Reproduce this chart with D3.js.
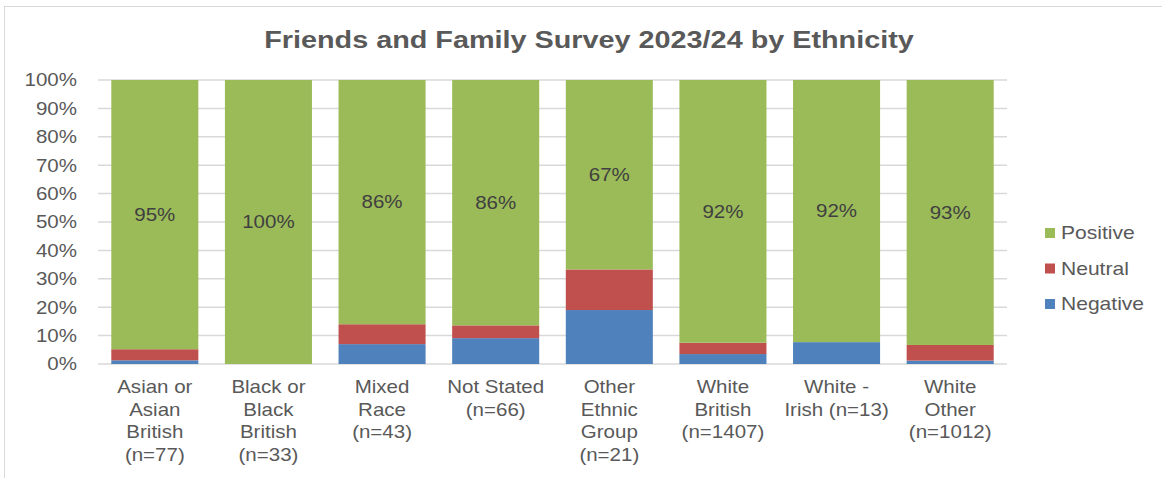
<!DOCTYPE html>
<html>
<head>
<meta charset="utf-8">
<script src="https://cdn.jsdelivr.net/npm/d3@7"></script>
<style>
  body { margin: 0; background: #fff; }
  text { font-family: "Liberation Sans", Arial, sans-serif; }
</style>
</head>
<body>
<div id="chart"></div>
<script>
// categories, one label line per array entry
var categories = [
    ["Asian or", "Asian", "British", "(n=77)"],
    ["Black or", "Black", "British", "(n=33)"],
    ["Mixed", "Race", "(n=43)"],
    ["Not Stated", "(n=66)"],
    ["Other", "Ethnic", "Group", "(n=21)"],
    ["White", "British", "(n=1407)"],
    ["White -", "Irish (n=13)"],
    ["White", "Other", "(n=1012)"]
];

// percentages per series
var negative = [1.3, 0, 7.0, 9.1, 19.0, 3.5, 7.7, 1.2];
var neutral  = [3.9, 0, 7.0, 4.5, 14.3, 4.0, 0, 5.5];
var positive = [94.8, 100, 86.0, 86.4, 66.7, 92.5, 92.3, 93.3];
var positiveLabels = ["95%", "100%", "86%", "86%", "67%", "92%", "92%", "93%"];

var seriesNames = ["Negative", "Neutral", "Positive"];
var colors = {Negative: "#4F81BD", Neutral: "#C0504D", Positive: "#9BBB59"};
var yTicks = [0, 10, 20, 30, 40, 50, 60, 70, 80, 90, 100];

var W = 1162, H = 478;
var margin = {top: 80, right: 155, bottom: 114, left: 98},
    width = W - margin.left - margin.right,
    height = H - margin.top - margin.bottom;

// the source text is a bit wider than Arial, stretch it sideways
var sx = 1.14;
function place(x, y, s) {
    return "translate(" + x + "," + y + ") scale(" + (s || sx) + ",1)";
}

var svg = d3.select("#chart").append("svg")
    .attr("width", W)
    .attr("height", H);

// chart frame
svg.append("rect")
    .attr("x", 4.5).attr("y", 6.5)
    .attr("width", W).attr("height", H)
    .attr("fill", "none")
    .attr("stroke", "#d9d9d9");

svg.append("text")
    .attr("transform", place(589, 48, 1.2))
    .attr("text-anchor", "middle")
    .style("font-size", "24px")
    .style("font-weight", "bold")
    .style("fill", "#595959")
    .text("Friends and Family Survey 2023/24 by Ethnicity");

var g = svg.append("g")
    .attr("transform", "translate(" + margin.left + "," + margin.top + ")");

var keys = categories.map(function(d, i) { return i; });
var table = keys.map(function(i) {
    return {idx: i, Negative: negative[i], Neutral: neutral[i], Positive: positive[i]};
});

var x = d3.scaleBand().domain(keys).range([0, width]).paddingInner(0.234).paddingOuter(0.117);
var y = d3.scaleLinear().domain([0, 100]).range([height, 0]);

// gridlines
g.append("g")
    .selectAll("line")
    .data(yTicks)
    .enter().append("line")
    .attr("x1", 0).attr("x2", width)
    .attr("y1", function(d) { return y(d); })
    .attr("y2", function(d) { return y(d); })
    .attr("stroke", "#d9d9d9")
    .attr("stroke-width", 1.5);

// y axis labels
g.append("g")
    .selectAll("text")
    .data(yTicks)
    .enter().append("text")
    .attr("transform", function(d) { return place(-21, y(d)); })
    .attr("dy", "0.35em")
    .attr("text-anchor", "end")
    .style("font-size", "18px")
    .style("fill", "#595959")
    .text(function(d) { return d + "%"; });

var stacked = d3.stack().keys(seriesNames)(table);

g.selectAll("g.series")
    .data(stacked)
    .enter().append("g")
    .attr("class", "series")
    .attr("fill", function(d) { return colors[d.key]; })
    .selectAll("rect")
    .data(function(d) { return d; })
    .enter().append("rect")
    .attr("x", function(d) { return x(d.data.idx); })
    .attr("width", x.bandwidth())
    .attr("y", function(d) { return y(d[1]); })
    .attr("height", function(d) { return y(d[0]) - y(d[1]); });

// positive data labels
var posSeries = stacked[2];
g.selectAll("text.vlabel")
    .data(posSeries)
    .enter().append("text")
    .attr("class", "vlabel")
    .attr("transform", function(d) {
        return place(x(d.data.idx) + x.bandwidth() / 2, (y(d[0]) + y(d[1])) / 2);
    })
    .attr("dy", "0.35em")
    .attr("text-anchor", "middle")
    .style("font-size", "18px")
    .style("fill", "#404040")
    .text(function(d, i) { return positiveLabels[i]; });

// x category labels
var xl = g.selectAll("text.xlabel")
    .data(categories)
    .enter().append("text")
    .attr("class", "xlabel")
    .attr("text-anchor", "middle")
    .attr("transform", function(d, i) {
        return place(x(i) + x.bandwidth() / 2, height + 29);
    })
    .style("font-size", "18px")
    .style("fill", "#595959");
xl.selectAll("tspan")
    .data(function(d) { return d; })
    .enter().append("tspan")
    .attr("x", 0)
    .attr("y", function(d, j) { return j * 22.7; })
    .text(function(d) { return d; });

// legend
var legend = svg.append("g")
    .attr("transform", "translate(1045,0)");
var legendItems = ["Positive", "Neutral", "Negative"];
var li = legend.selectAll("g")
    .data(legendItems)
    .enter().append("g")
    .attr("transform", function(d, i) { return "translate(0," + (233 + i * 35.5) + ")"; });
li.append("rect")
    .attr("x", 0).attr("y", -5)
    .attr("width", 10).attr("height", 10)
    .attr("fill", function(d) { return colors[d]; });
li.append("text")
    .attr("transform", place(16, 0, 1.17))
    .attr("dy", "0.35em")
    .style("font-size", "18px")
    .style("fill", "#595959")
    .text(function(d) { return d; });
</script>
</body>
</html>
